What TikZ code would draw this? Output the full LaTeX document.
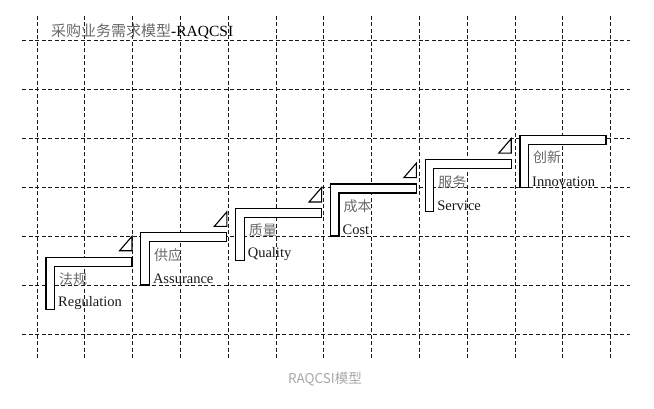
\documentclass[tikz,border=0pt]{standalone}
\usepackage{fontspec}
\setmainfont{Liberation Serif}
\newfontfamily\cjkfont{Noto Sans CJK SC}
\usetikzlibrary{positioning}
\definecolor{GridInk}{RGB}{25,25,25}
\definecolor{HanGray}{RGB}{105,105,105}
\definecolor{CaptionGray}{RGB}{168,168,168}
\tikzset{
  gridline/.style={draw=GridInk,dash pattern=on 4pt off 2.5pt,line width=0.9pt},
  stair/.style={draw=black,fill=white,line width=1.2pt},
  wedge/.style={draw=black,fill=white,line width=1.1pt},
  hanlabel/.style={anchor=west,inner sep=0pt,text=HanGray,
    font=\cjkfont\fontsize{14}{16}\selectfont},
  enlabel/.style={anchor=west,inner sep=0pt,text=black!90,
    font=\fontsize{14.5}{17}\selectfont}
}
\begin{document}
\begin{tikzpicture}[x=1pt,y=-1pt]
  \useasboundingbox (0,0) rectangle (654,409);
  % dashed grid
  \foreach \i in {0,...,12}
    \draw[gridline] ({37+47.8*\i},16) -- ({37+47.8*\i},358);
  \foreach \j in {0,...,6}
    \draw[gridline] (22,{40.5+49*\j}) -- (630,{40.5+49*\j});
  % title
  \node[anchor=west,inner sep=0pt,font=\fontsize{15.5}{17}\selectfont] (title) at (51,31)
    {{\cjkfont\color{HanGray}\fontsize{15}{17}\selectfont 采购业务需求模型}-RAQCSI};
  % steps
  \foreach \han/\en [count=\k from 0] in
    {法规/Regulation,供应/Assurance,质量/Quality,成本/Cost,服务/Service,创新/Innovation} {
    \coordinate (step\k) at ({46+94.8*\k},{257.3-24.4*\k});
    \draw[stair] (step\k) -- ++(86,0) -- ++(0,9) -- ++(-77.5,0) -- ++(0,43) -- ++(-8.5,0) -- cycle;
    \ifnum\k<5
      \draw[wedge] ([shift={(73.5,-6.5)}]step\k) -- ++(12.5,0) -- ++(0,-14.5) -- cycle;
    \fi
    \node[hanlabel] (han\k) at ([shift={(13,22)}]step\k) {\han};
    \node[enlabel] (en\k) at ([shift={(12,46)}]step\k) {\en};
  }
  % caption
  \node[inner sep=0pt,text=CaptionGray,font=\cjkfont\fontsize{13.5}{15}\selectfont] (caption) at (325,379)
    {RAQCSI模型};
\end{tikzpicture}
\end{document}
